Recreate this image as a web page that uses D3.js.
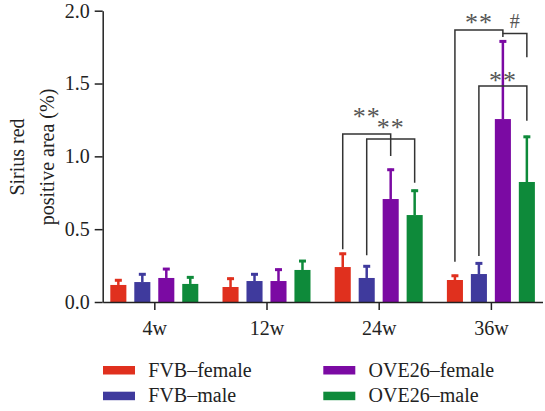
<!DOCTYPE html>
<html>
<head>
<script src="https://d3js.org/d3.v7.min.js"></script>
<style>
  body { margin: 0; background: #fff; }
  text { font-family: "Liberation Serif", "DejaVu Serif", serif; fill: #222; }
  .star { fill: #555; }
</style>
</head>
<body>
<script>
var categories = ["4w", "12w", "24w", "36w"];
var series = ["FVB\u2013female", "FVB\u2013male", "OVE26\u2013female", "OVE26\u2013male"];
var colors = ["#e0301e", "#3f3a9d", "#7b0aa3", "#0e8a3a"];
// mean values per series, one per category
var fvbFemale   = [0.117, 0.103, 0.240, 0.151];
var fvbMale     = [0.137, 0.144, 0.165, 0.192];
var oveFemale   = [0.165, 0.144, 0.707, 1.256];
var oveMale     = [0.124, 0.220, 0.597, 0.824];
// top of error bar
var fvbFemaleErr = [0.156, 0.167, 0.338, 0.187];
var fvbMaleErr   = [0.197, 0.197, 0.252, 0.272];
var oveFemaleErr = [0.233, 0.229, 0.915, 1.796];
var oveMaleErr   = [0.176, 0.288, 0.771, 1.141];
var yTicks = [0, 0.5, 1.0, 1.5, 2.0];
// significance brackets: category, from series, to series, bracket level, leg bottoms, label and its level
var sigCat    = ["24w", "24w", "36w", "36w", "36w"];
var sigFrom   = [0, 1, 0, 2, 1];
var sigTo     = [2, 3, 2, 3, 3];
var sigLevel  = [1.153, 1.119, 1.867, 1.844, 1.483];
var sigLeft   = [0.362, 0.321, 0.277, 1.82, 0.316];
var sigRight  = [1.002, 0.819, 1.844, 1.68, 1.244];
var sigLabel  = ["**", "**", "**", "#", "**"];
var sigLabelY = [1.297, 1.222, 1.940, 1.931, 1.542];

var means = [fvbFemale, fvbMale, oveFemale, oveMale];
var errs = [fvbFemaleErr, fvbMaleErr, oveFemaleErr, oveMaleErr];

var width = 545, height = 411;
var svg = d3.select("body").append("svg")
  .attr("width", width).attr("height", height);

var x0 = d3.scalePoint().domain(categories).range([102.7, 542.5]).padding(0.46);
var x1 = d3.scaleBand().domain(d3.range(4)).range([-44, 44]).paddingInner(0.33);
var y = d3.scaleLinear().domain([0, 2]).range([302, 10.7]);

var bars = [];
means.forEach(function(arr, s) {
  arr.forEach(function(v, c) {
    bars.push({s: s, c: categories[c], v: v, e: errs[s][c]});
  });
});
function cx(d){ return x0(d.c) + x1(d.s) + x1.bandwidth()/2; }

// error bars
svg.selectAll(".err").data(bars).enter().append("line")
  .attr("x1", cx).attr("x2", cx)
  .attr("y1", function(d){ return y(d.v); })
  .attr("y2", function(d){ return y(d.e); })
  .attr("stroke", function(d){ return colors[d.s]; })
  .attr("stroke-width", 2.5);
svg.selectAll(".cap").data(bars).enter().append("line")
  .attr("x1", function(d){ return cx(d) - 3.5; })
  .attr("x2", function(d){ return cx(d) + 3.5; })
  .attr("y1", function(d){ return y(d.e) + 1; })
  .attr("y2", function(d){ return y(d.e) + 1; })
  .attr("stroke", function(d){ return colors[d.s]; })
  .attr("stroke-width", 3);

svg.selectAll(".bar").data(bars).enter().append("rect")
  .attr("x", function(d){ return x0(d.c) + x1(d.s); })
  .attr("width", x1.bandwidth())
  .attr("y", function(d){ return y(d.v); })
  .attr("height", function(d){ return y(0) - y(d.v); })
  .attr("fill", function(d){ return colors[d.s]; });

// axes
var yAxis = svg.append("g").attr("transform", "translate(102.7,0)")
  .call(d3.axisLeft(y).tickValues(yTicks).tickFormat(d3.format(".1f")).tickSize(8).tickSizeOuter(0));
yAxis.selectAll("text").attr("font-size", 20).attr("dx", "-0.1em");
yAxis.selectAll("line, path").attr("stroke", "#222").attr("stroke-width", 1.5);

var xAxis = svg.append("g").attr("transform", "translate(0,302)")
  .call(d3.axisBottom(x0).tickSize(8).tickSizeOuter(0));
xAxis.selectAll("text").attr("font-size", 20).attr("dy", null).attr("y", 33);
xAxis.selectAll("line, path").attr("stroke", "#222").attr("stroke-width", 1.5);

svg.selectAll(".domain").attr("fill", "none");

// y label
var yl = svg.append("text")
  .attr("transform", "translate(24,157) rotate(-90)")
  .attr("text-anchor", "middle").attr("font-size", 20);
yl.append("tspan").attr("x", 0).attr("dy", 0).text("Sirius red");
yl.append("tspan").attr("x", 0).attr("dy", 30).text("positive area (%)");

// significance brackets
sigCat.forEach(function(c, i) {
  var xa = x0(c) + x1(sigFrom[i]) + x1.bandwidth()/2;
  var xb = x0(c) + x1(sigTo[i]) + x1.bandwidth()/2;
  svg.append("path")
    .attr("d", "M" + xa + "," + y(sigLeft[i]) + "V" + y(sigLevel[i]) + "H" + xb + "V" + y(sigRight[i]))
    .attr("fill", "none").attr("stroke", "#333").attr("stroke-width", 1.5);
  var isHash = sigLabel[i] == "#";
  svg.append("text").attr("class", "star")
    .attr("x", (xa + xb) / 2)
    .attr("y", y(sigLabelY[i]) + (isHash ? 6.8 : 12))
    .attr("text-anchor", "middle")
    .attr("font-size", isHash ? 20 : 26)
    .attr("letter-spacing", isHash ? 0 : 1)
    .text(sigLabel[i]);
});

// legend
var legX = [103, 323.3], legY = [366, 391.7];
series.forEach(function(name, i) {
  var col = i < 2 ? 0 : 1, row = i % 2;
  svg.append("rect").attr("x", legX[col]).attr("y", legY[row])
    .attr("width", 32).attr("height", 8.5).attr("fill", colors[i]);
  svg.append("text").attr("x", legX[col] + 45.3).attr("y", legY[row] + 10.5)
    .attr("font-size", 20).text(name);
});
</script>
</body>
</html>
